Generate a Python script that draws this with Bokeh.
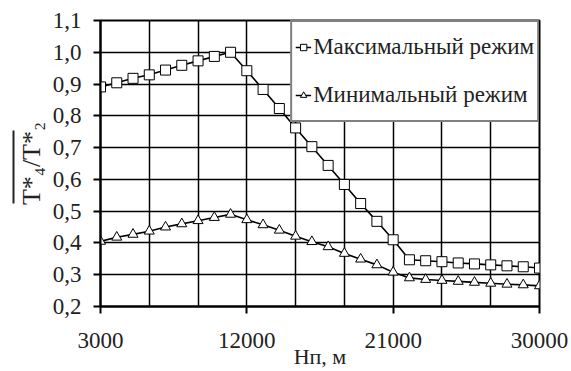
from bokeh.plotting import figure
from bokeh.models import (Range1d, FixedTicker, CustomJSTickFormatter, Legend, LegendItem,
                          LinearAxis)
from bokeh.embed import file_html
from bokeh.resources import INLINE

# ---- data ----
altitude = [3000, 4000, 5000, 6000, 7000, 8000, 9000, 10000, 11000, 12000,
            13000, 14000, 15000, 16000, 17000, 18000, 19000, 20000, 21000, 22000,
            23000, 24000, 25000, 26000, 27000, 28000, 29000, 30000]
max_mode = [0.891, 0.904, 0.918, 0.929, 0.944, 0.959, 0.973, 0.987, 1.000, 0.942,
            0.883, 0.823, 0.762, 0.703, 0.644, 0.584, 0.524, 0.468, 0.410, 0.347,
            0.344, 0.341, 0.337, 0.334, 0.331, 0.328, 0.325, 0.321]
min_mode = [0.405, 0.418, 0.427, 0.437, 0.450, 0.460, 0.470, 0.480, 0.490, 0.473,
            0.457, 0.440, 0.421, 0.404, 0.388, 0.367, 0.349, 0.331, 0.308, 0.290,
            0.285, 0.282, 0.279, 0.276, 0.273, 0.270, 0.268, 0.265]
x_tick_labels = [3000, 12000, 21000, 30000]
x_grid = [3000, 6000, 9000, 12000, 15000, 18000, 21000, 24000, 27000, 30000]
y_ticks = [0.2, 0.3, 0.4, 0.5, 0.6, 0.7, 0.8, 0.9, 1.0, 1.1]
legend_max = "Максимальный режим"
legend_min = "Минимальный режим"
x_label = "Hп, м"
y_label = "T*₄/T*₂"

FONT = "Liberation Serif"
TXT = "#222222"

p = figure(width=571, height=371, output_backend="svg", toolbar_location=None,
           x_range=Range1d(3000, 30000), y_range=Range1d(0.2, 1.1),
           min_border_left=100, min_border_right=32, min_border_top=20,
           min_border_bottom=2)
p.background_fill_color = "white"
p.border_fill_color = "white"
p.outline_line_color = "black"
p.outline_line_width = 2

for ax in (p.xaxis[0], p.yaxis[0]):
    ax.axis_line_color = "black"
    ax.axis_line_width = 2
    ax.major_tick_line_color = "black"
    ax.major_tick_line_width = 2
    ax.major_tick_out = 7
    ax.major_tick_in = 0
    ax.minor_tick_line_color = None
    ax.major_label_text_font = FONT
    ax.major_label_text_font_size = "23px"
    ax.major_label_text_color = TXT
    ax.axis_label_text_font = FONT
    ax.axis_label_text_font_style = "normal"
    ax.axis_label_text_color = TXT

p.xaxis.ticker = FixedTicker(ticks=x_tick_labels)
p.xaxis.major_label_standoff = 19
p.xaxis.axis_label = x_label
p.xaxis.axis_label_text_font_size = "22px"
p.xaxis.axis_label_standoff = -7

p.yaxis.ticker = FixedTicker(ticks=y_ticks)
p.yaxis.major_label_standoff = 12
p.yaxis.formatter = CustomJSTickFormatter(code="return tick.toFixed(1).replace('.', ',');")
p.yaxis.axis_label = y_label
p.yaxis.axis_label_text_font_size = "26px"
p.yaxis.axis_label_standoff = 4

# overline of the y label: a bare axis line with limited bounds, stacked outside
over = LinearAxis(ticker=FixedTicker(ticks=[]), bounds=(0.524, 0.754),
                  axis_line_color=TXT, axis_line_width=2,
                  major_tick_line_color=None, minor_tick_line_color=None,
                  major_label_text_font_size="0px")
p.add_layout(over, "left")

p.xgrid.ticker = FixedTicker(ticks=x_grid)
p.ygrid.ticker = FixedTicker(ticks=y_ticks)
for g in (p.xgrid[0], p.ygrid[0]):
    g.grid_line_color = "black"
    g.grid_line_width = 1.5

l1 = p.line(altitude, max_mode, line_color="black", line_width=1.6)
s1 = p.scatter(altitude, max_mode, marker="square", size=10, fill_color="white",
               line_color="black", line_width=1)
l2 = p.line(altitude, min_mode, line_color="black", line_width=1.6)
s2 = p.scatter(altitude, min_mode, marker="triangle", size=10, fill_color="white",
               line_color="black", line_width=1)

legend = Legend(items=[LegendItem(label=legend_max, renderers=[l1, s1]),
                       LegendItem(label=legend_min, renderers=[l2, s2])],
                location="top_right", margin=0, padding=3, spacing=4,
                glyph_width=16, glyph_height=44, label_height=44, label_standoff=2,
                border_line_color="black", border_line_width=2,
                background_fill_color="white", background_fill_alpha=1,
                label_text_font=FONT, label_text_font_size="23px",
                label_text_color=TXT)
p.add_layout(legend)

open("out.html", "w").write(file_html(p, INLINE))
